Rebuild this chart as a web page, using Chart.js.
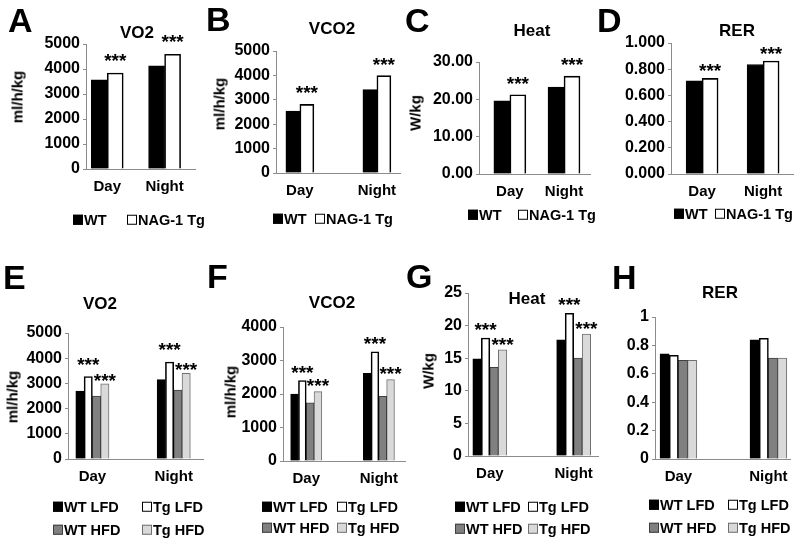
<!DOCTYPE html>
<html>
<head>
<meta charset="utf-8">
<title>Energy expenditure, NAG-1 Tg vs WT</title>
<script src="https://cdn.jsdelivr.net/npm/chart.js@4.4.0/dist/chart.umd.min.js"></script>
<style>
  body { margin: 0; background: #fff; }
  #fig { position: relative; width: 800px; height: 545px; overflow: hidden;
         font-family: 'Liberation Sans', Arial, sans-serif; font-weight: bold; color: #000; }
  #fig canvas { position: absolute; left: 0; top: 0; }
  .txt { position: absolute; white-space: nowrap; transform: translate(-50%, -50%); font-size: 17px; line-height: 1; }
  .ytitle { transform: translate(-50%, -50%) rotate(-90deg); font-size: 15px; }
  .letter { position: absolute; font-size: 34px; line-height: 1; }
  .leg { position: absolute; display: flex; align-items: center; font-size: 14.5px; line-height: 1;
         white-space: nowrap; transform: translateY(-50%); }
  .sw { width: 10px; height: 10px; box-sizing: border-box; margin-right: 1px; }
</style>
</head>
<body>
<div id="fig"></div>
<script>
// categories
const periods = ['Day', 'Night'];
const genotypes = ['WT', 'NAG-1 Tg'];
const dietGroups = ['WT LFD', 'Tg LFD', 'WT HFD', 'Tg HFD'];

// A-D: values for [Day, Night]
const vo2WT = [3570, 4130];
const vo2Tg = [3840, 4590];
const vco2WT = [2540, 3420];
const vco2Tg = [2810, 3990];
const heatWT = [19.6, 23.3];
const heatTg = [21.2, 26.2];
const rerWT = [0.712, 0.836];
const rerTg = [0.730, 0.862];

// E-H: values for [Day, Night]
const dVo2WTLFD = [2700, 3150];
const dVo2TgLFD = [3270, 3850];
const dVo2WTHFD = [2500, 2730];
const dVo2TgHFD = [2980, 3400];

const dVco2WTLFD = [2000, 2620];
const dVco2TgLFD = [2400, 3260];
const dVco2WTHFD = [1740, 1930];
const dVco2TgHFD = [2070, 2430];

const dHeatWTLFD = [14.9, 17.8];
const dHeatTgLFD = [18.1, 21.9];
const dHeatWTHFD = [13.6, 15.0];
const dHeatTgHFD = [16.3, 18.7];

const dRerWTLFD = [0.74, 0.84];
const dRerTgLFD = [0.73, 0.85];
const dRerWTHFD = [0.695, 0.71];
const dRerTgHFD = [0.695, 0.71];

const fills = ['#000000', '#ffffff', '#808080', '#d9d9d9'];
const edges = ['#000000', '#000000', '#3f3f3f', '#707070'];
const edgeW = [1, 1.6, 1, 1];

// plot = [yAxisX, xAxisEnd, yTopPx, yBottomPx]; edge = category padding left/right
const panels = [
  { letter: 'A', letterAt: [8, 3], title: 'VO2', titleAt: [137, 32], yTitle: 'ml/h/kg', yTitleAt: [17, 97],
    groups: genotypes, series: [vo2WT, vo2Tg], max: 5000, step: 1000, dec: 0,
    plot: [86, 195, 44, 169], edge: [0.37, 0.53], barW: 16,
    legX: [73, 127], legY: [220], stars: [[1, 18]] },
  { letter: 'B', letterAt: [206, 2], title: 'VCO2', titleAt: [332, 28], yTitle: 'ml/h/kg', yTitleAt: [219, 104],
    groups: genotypes, series: [vco2WT, vco2Tg], max: 5000, step: 1000, dec: 0,
    plot: [276, 400, 51, 173], edge: [0.31, 0.3], barW: 14,
    legX: [273, 315], legY: [219], stars: [[1, 17]] },
  { letter: 'C', letterAt: [405, 3], title: 'Heat', titleAt: [532, 30], yTitle: 'W/kg', yTitleAt: [415, 113],
    groups: genotypes, series: [heatWT, heatTg], max: 30, step: 10, dec: 2,
    plot: [479, 590, 62, 174], edge: [0.57, 0.48], barW: 16,
    legX: [468, 518], legY: [215], stars: [[1, 17]] },
  { letter: 'D', letterAt: [597, 3], title: 'RER', titleAt: [737, 30], yTitle: null,
    groups: genotypes, series: [rerWT, rerTg], max: 1, step: 0.2, dec: 3,
    plot: [671, 793, 43, 174], edge: [0.51, 0.49], barW: 16,
    legX: [674, 715], legY: [214], stars: [[1, 13]] },
  { letter: 'E', letterAt: [3, 260], title: 'VO2', titleAt: [100, 303], yTitle: 'ml/h/kg', yTitleAt: [12, 397],
    groups: dietGroups, series: [dVo2WTLFD, dVo2TgLFD, dVo2WTHFD, dVo2TgHFD], max: 5000, step: 1000, dec: 0,
    plot: [68, 203, 333, 459], edge: [0.3, 0.36], barW: 8.3,
    legX: [53, 142], legY: [507, 530], stars: [[1, 18], [3, 9]] },
  { letter: 'F', letterAt: [207, 259], title: 'VCO2', titleAt: [332, 302], yTitle: 'ml/h/kg', yTitleAt: [230, 392],
    groups: dietGroups, series: [dVco2WTLFD, dVco2TgLFD, dVco2WTHFD, dVco2TgHFD], max: 4000, step: 1000, dec: 0,
    plot: [283, 405, 327, 461], edge: [0.32, 0.36], barW: 7.8,
    legX: [262, 337], legY: [507, 528], stars: [[1, 14], [3, 12]] },
  { letter: 'G', letterAt: [406, 259], title: 'Heat', titleAt: [527, 298], yTitle: 'W/kg', yTitleAt: [428, 371],
    groups: dietGroups, series: [dHeatWTLFD, dHeatTgLFD, dHeatWTHFD, dHeatTgHFD], max: 25, step: 5, dec: 0,
    plot: [468, 598, 293, 456], edge: [0.26, 0.29], barW: 8.5,
    legX: [455, 528], legY: [507, 529], stars: [[1, 14], [3, 11]] },
  { letter: 'H', letterAt: [612, 260], title: 'RER', titleAt: [720, 292], yTitle: null,
    groups: dietGroups, series: [dRerWTLFD, dRerTgLFD, dRerWTHFD, dRerTgHFD], max: 1, step: 0.2, dec: -1,
    plot: [655, 790, 317, 459], edge: [0.26, 0.24], barW: 9.2,
    legX: [649, 728], legY: [505, 528], stars: [] }
];

Chart.defaults.font.family = "'Liberation Sans', Arial, sans-serif";
Chart.defaults.font.weight = 'bold';
Chart.defaults.color = '#000';

const fig = document.getElementById('fig');
const AXIS = '#8c8c8c';

function addText(cls, text, x, y) {
  const el = document.createElement('div');
  el.className = cls;
  el.textContent = text;
  el.style.left = x + 'px';
  el.style.top = y + 'px';
  fig.appendChild(el);
  return el;
}

// "***" over the chosen bars, anchored on the bar tops
function starMarks(marks) {
  return {
    id: 'stars',
    afterDatasetsDraw(chart) {
      const ctx = chart.ctx;
      ctx.save();
      ctx.font = "bold 19px 'Liberation Sans', Arial, sans-serif";
      ctx.fillStyle = '#000';
      ctx.textAlign = 'center';
      ctx.textBaseline = 'alphabetic';
      marks.forEach(([ds, lift]) => {
        chart.getDatasetMeta(ds).data.forEach(bar => {
          ctx.fillText('***', bar.x, bar.y - lift + 12);
        });
      });
      ctx.restore();
    }
  };
}

function fmt(v, dec) {
  if (dec < 0) return String(+v.toFixed(1));
  return v.toFixed(dec);
}

panels.forEach(p => {
  const [x0, x1, yTop, yBottom] = p.plot;
  const cv = document.createElement('canvas');
  cv.width = 800;
  cv.height = 545;
  fig.appendChild(cv);

  new Chart(cv, {
    type: 'bar',
    data: {
      labels: periods,
      datasets: p.series.map((vals, i) => ({
        label: p.groups[i],
        data: vals,
        backgroundColor: fills[i],
        borderColor: edges[i],
        borderWidth: edgeW[i],
        borderSkipped: 'start',
        barThickness: p.barW
      }))
    },
    options: {
      responsive: false,
      animation: false,
      events: [],
      layout: { padding: { left: x0 - 60, right: 800 - x1, top: yTop, bottom: 545 - yBottom - 40 } },
      plugins: { legend: { display: false }, tooltip: { enabled: false }, title: { display: false } },
      scales: {
        x: {
          offset: true,
          grid: { display: false, drawTicks: false },
          border: { display: true, color: AXIS, width: 1 },
          ticks: { padding: 9, font: { size: 15, weight: 'bold' }, maxRotation: 0 },
          afterBuildTicks: s => {
            s._startValue = -p.edge[0];
            s._valueRange = 1 + p.edge[0] + p.edge[1];
          },
          afterFit: s => { s.height = 40; s.paddingLeft = 0; s.paddingRight = 0; }
        },
        y: {
          min: 0,
          max: p.max,
          grid: { display: true, drawOnChartArea: false, drawTicks: true, tickLength: 3, color: AXIS },
          border: { display: true, color: AXIS, width: 1 },
          ticks: { stepSize: p.step, autoSkip: false, padding: 3, font: { size: 16, weight: 'bold' },
                   callback: v => fmt(v, p.dec) },
          afterFit: s => { s.width = 60; s.paddingTop = 0; s.paddingBottom = 0; }
        }
      }
    },
    plugins: [starMarks(p.stars)]
  });

  // panel letter, title, axis title
  const lt = addText('letter', p.letter, p.letterAt[0], p.letterAt[1]);
  lt.style.transform = 'none';
  addText('txt', p.title, p.titleAt[0], p.titleAt[1]);
  if (p.yTitle) addText('txt ytitle', p.yTitle, p.yTitleAt[0], p.yTitleAt[1]);

  // legend
  p.groups.forEach((g, i) => {
    const item = document.createElement('div');
    item.className = 'leg';
    item.style.left = p.legX[i % p.legX.length] + 'px';
    item.style.top = p.legY[Math.floor(i / p.legX.length)] + 'px';
    const sw = document.createElement('span');
    sw.className = 'sw';
    sw.style.background = fills[i];
    sw.style.border = '1px solid ' + edges[i];
    item.appendChild(sw);
    item.appendChild(document.createTextNode(g));
    fig.appendChild(item);
  });
});
</script>
</body>
</html>
